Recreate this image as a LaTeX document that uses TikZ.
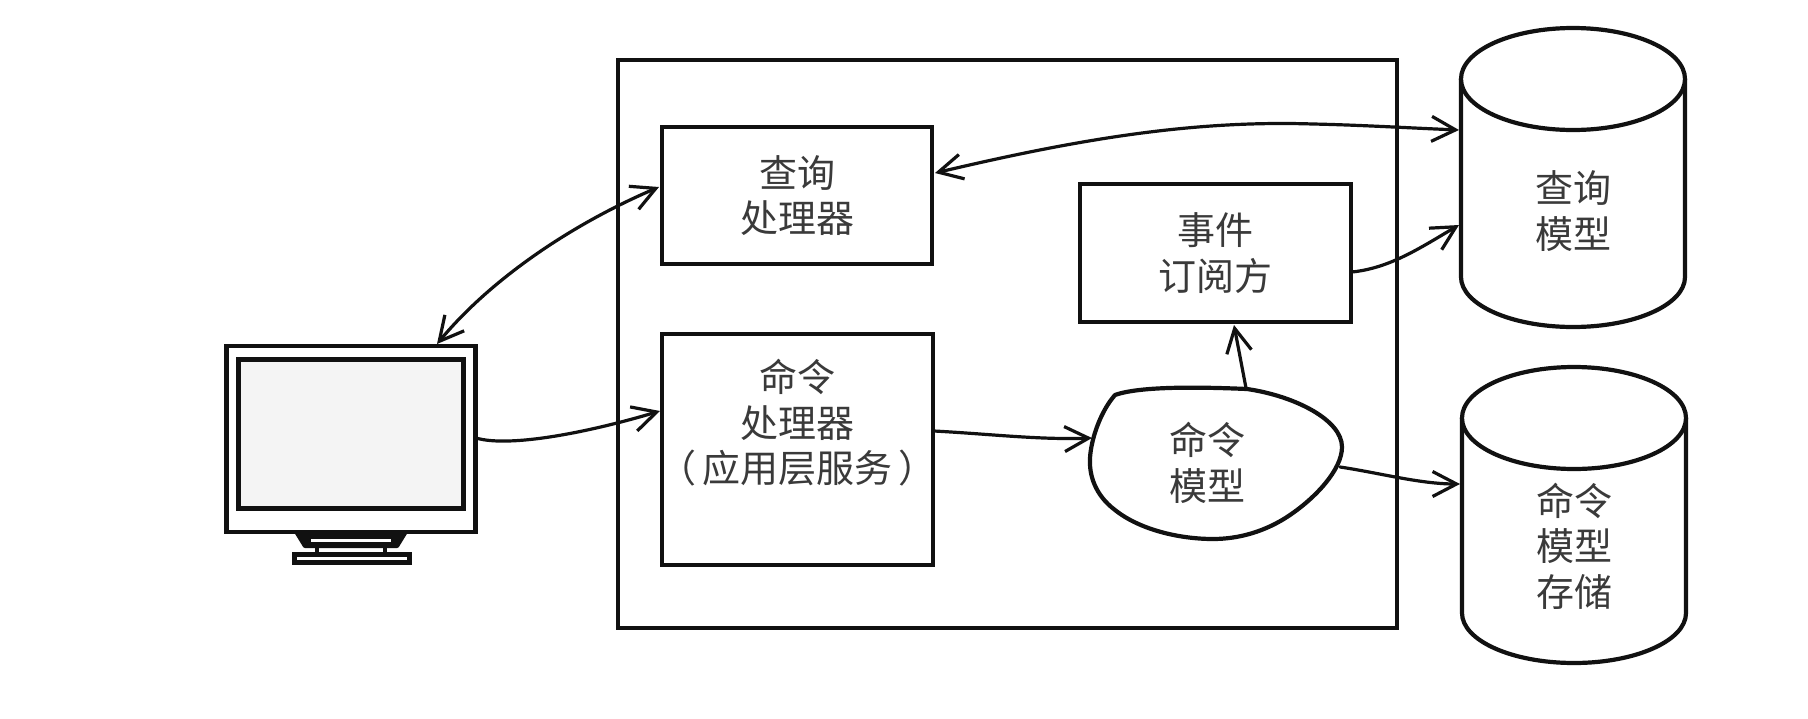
\documentclass[tikz,border=0pt]{standalone}
\usepackage{fontspec}
\setmainfont{Noto Sans CJK SC}
\usetikzlibrary{arrows.meta}
\definecolor{ink}{HTML}{111111}
\definecolor{txt}{HTML}{3A3A3A}
\definecolor{screen}{HTML}{F4F4F4}
\tikzset{
  x=1pt,y=-1pt,
  boxnode/.style={draw=ink,line width=4.2pt,fill=white,inner sep=0pt,outer sep=0pt,align=center,text=txt,font=\fontsize{38}{45.5}\selectfont},
  labelnode/.style={inner sep=0pt,outer sep=0pt,align=center,text=txt,font=\fontsize{38}{45.5}\selectfont},
  outline/.style={draw=ink,line width=4.2pt,line join=round},
  tip/.style={},
  conn/.style={draw=ink,line width=3.2pt,line cap=round,-{Straight Barb[length=24pt,width=25pt,line width=3.2pt]}},
  biconn/.style={draw=ink,line width=3.2pt,line cap=round,{Straight Barb[length=24pt,width=25pt,line width=3.2pt]}-{Straight Barb[length=24pt,width=25pt,line width=3.2pt]}}
}
\begin{document}
\begin{tikzpicture}
\useasboundingbox[fill=white] (0,0) rectangle (1808,718);
% system boundary
\node[boxnode,minimum width=779pt,minimum height=568pt] (sys) at (1007.5,344) {};
% boxes
\node[boxnode,minimum width=270pt,minimum height=137pt] (query) at (797,195.5) {查询\\处理器};
\node[boxnode,minimum width=271pt,minimum height=231pt] (cmd) at (797.5,449.5) {};
\node[labelnode] (cmdtext) at (797.5,423) {命令\\处理器\\（\hspace{6pt}应用层服务\hspace{6pt}）};
\node[boxnode,minimum width=271pt,minimum height=138pt] (event) at (1215.5,253) {事件\\订阅方};
% blob
\draw[outline,fill=white] (1115,395)
  .. controls (1140,386) and (1200,387) .. (1247,389)
  .. controls (1295,396) and (1342,420) .. (1342,447)
  .. controls (1342,470) and (1315,498) .. (1290,515)
  .. controls (1265,532) and (1238,539) .. (1213,539)
  .. controls (1180,539) and (1140,530) .. (1115,510)
  .. controls (1095,495) and (1089,475) .. (1090,458)
  .. controls (1091,440) and (1100,412) .. (1115,395) -- cycle;
\node[labelnode] (blob) at (1207,463) {命令\\模型};
% query-model cylinder
\draw[outline,fill=white] (1461,79) -- (1461,277) arc[start angle=180,end angle=360,x radius=112pt,y radius=50pt] -- (1685,79);
\draw[outline,fill=white] (1573,79) ellipse[x radius=112pt,y radius=51pt];
\node[labelnode] (cylq) at (1573,211) {查询\\模型};
% command-store cylinder
\draw[outline,fill=white] (1462,418) -- (1462,613) arc[start angle=180,end angle=360,x radius=112pt,y radius=50pt] -- (1686,418);
\draw[outline,fill=white] (1574,418) ellipse[x radius=112pt,y radius=51pt];
\node[labelnode] (cylc) at (1574,546) {命令\\模型\\存储};
% monitor
\draw[outline,fill=ink] (297,533) -- (305,546) -- (397,546) -- (405,533) -- cycle;
\draw[draw=white,line width=2.5pt] (311,540.5) -- (391,540.5);
\draw[outline] (317,546) -- (317,554) (385,546) -- (385,554);
\node[boxnode,line width=5pt,minimum width=115pt,minimum height=8pt] (base) at (351.5,558) {};
\node[boxnode,minimum width=249pt,minimum height=186pt] (mon) at (351,439) {};
\node[boxnode,line width=5pt,fill=screen,minimum width=225pt,minimum height=149pt] (scr) at (351,433.5) {};
% connector ends
\coordinate (a1) at (437,344);
\coordinate (a2) at (659,187);
\coordinate (b1) at (476,438);
\coordinate (b2) at (660,411);
\coordinate (c1) at (934,431);
\coordinate (c2) at (1092,438);
\coordinate (d1) at (1246,388);
\coordinate (d2) at (1234,325);
\coordinate (e1) at (1352,272);
\coordinate (e2) at (1459,225);
\coordinate (f1) at (935,173);
\coordinate (fm) at (1313,124);
\coordinate (f2) at (1459,130);
\coordinate (g1) at (1340,467);
\coordinate (g2) at (1460,484);
% connectors
\draw[biconn] (a1) .. controls (490,280) and (570,225) .. (a2);
\draw[conn] (b1) .. controls (510,448) and (590,432) .. (b2);
\draw[conn] (c1) .. controls (990,434) and (1040,440) .. (c2);
\draw[conn] (d1) -- (d2);
\draw[conn] (e1) .. controls (1390,268) and (1420,248) .. (e2);
\draw[biconn] (f1) .. controls (1075,140) and (1190,120) .. (fm) .. controls (1360,125) and (1410,128) .. (f2);
\draw[conn] (g1) .. controls (1380,473) and (1420,484) .. (g2);
\end{tikzpicture}
\end{document}
